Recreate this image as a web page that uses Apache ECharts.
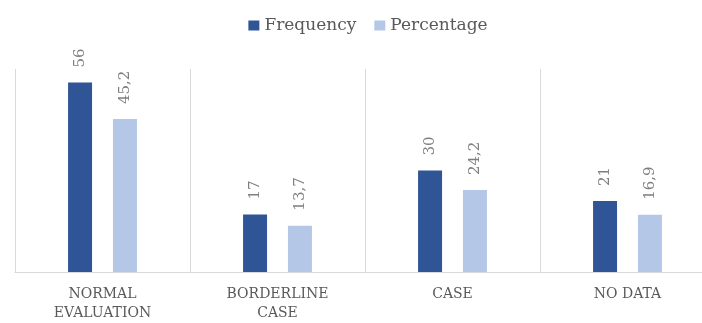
<!DOCTYPE html>
<html>
<head>
<meta charset="utf-8">
<script src="https://cdn.jsdelivr.net/npm/echarts@6/dist/echarts.min.js"></script>
<style>
  html, body { margin: 0; padding: 0; background: #fff; overflow: hidden; width: 702px; height: 323px; }
  /* the drawing runs a little past the visible right edge */
  #chart { width: 736px; height: 323px; }
</style>
</head>
<body>
<div id="chart"></div>
<script>
// Categories and series values
const categories = ['NORMAL\nEVALUATION', 'BORDERLINE\nCASE', 'CASE', 'NO DATA'];
const frequency = [56, 17, 30, 21];
const percentage = [45.2, 13.7, 24.2, 16.9];
const seriesNames = ['Frequency', 'Percentage'];

const FONT = 'DejaVu Serif';
const DARK = '#2F5597';
const LIGHT = '#B4C7E7';

function fmtComma(v) {
  return String(v).replace('.', ',');
}

const labelStyle = {
  show: true,
  position: 'top',
  rotate: 90,
  align: 'left',
  verticalAlign: 'middle',
  distance: 15,
  color: '#7f7f7f',
  fontFamily: FONT,
  fontSize: 15,
  formatter: p => fmtComma(p.value)
};

const chart = echarts.init(document.getElementById('chart'), null, { renderer: 'canvas' });
chart.setOption({
  animation: false,
  backgroundColor: '#ffffff',
  legend: {
    top: 12,
    left: 'center',
    itemWidth: 11,
    itemHeight: 10,
    itemGap: 18,
    icon: 'rect',
    textStyle: { color: '#595959', fontFamily: FONT, fontSize: 17 },
    data: seriesNames
  },
  grid: { left: 15, right: 21, top: 69, bottom: 51, containLabel: false },
  xAxis: {
    type: 'category',
    data: categories,
    axisLine: { show: true, lineStyle: { color: '#d9d9d9', width: 1 } },
    axisTick: { show: false },
    splitLine: { show: true, lineStyle: { color: '#d9d9d9', width: 1 } },
    axisLabel: {
      color: '#595959',
      fontFamily: FONT,
      fontSize: 14,
      lineHeight: 19,
      margin: 13,
      interval: 0
    }
  },
  yAxis: {
    type: 'value',
    min: 0,
    max: 60,
    show: false,
    splitLine: { show: false }
  },
  series: [
    {
      name: seriesNames[0],
      type: 'bar',
      data: frequency,
      barWidth: 24,
      barGap: '87%',
      itemStyle: { color: DARK },
      label: labelStyle
    },
    {
      name: seriesNames[1],
      type: 'bar',
      data: percentage,
      barWidth: 24,
      itemStyle: { color: LIGHT },
      label: labelStyle
    }
  ]
});
</script>
</body>
</html>
